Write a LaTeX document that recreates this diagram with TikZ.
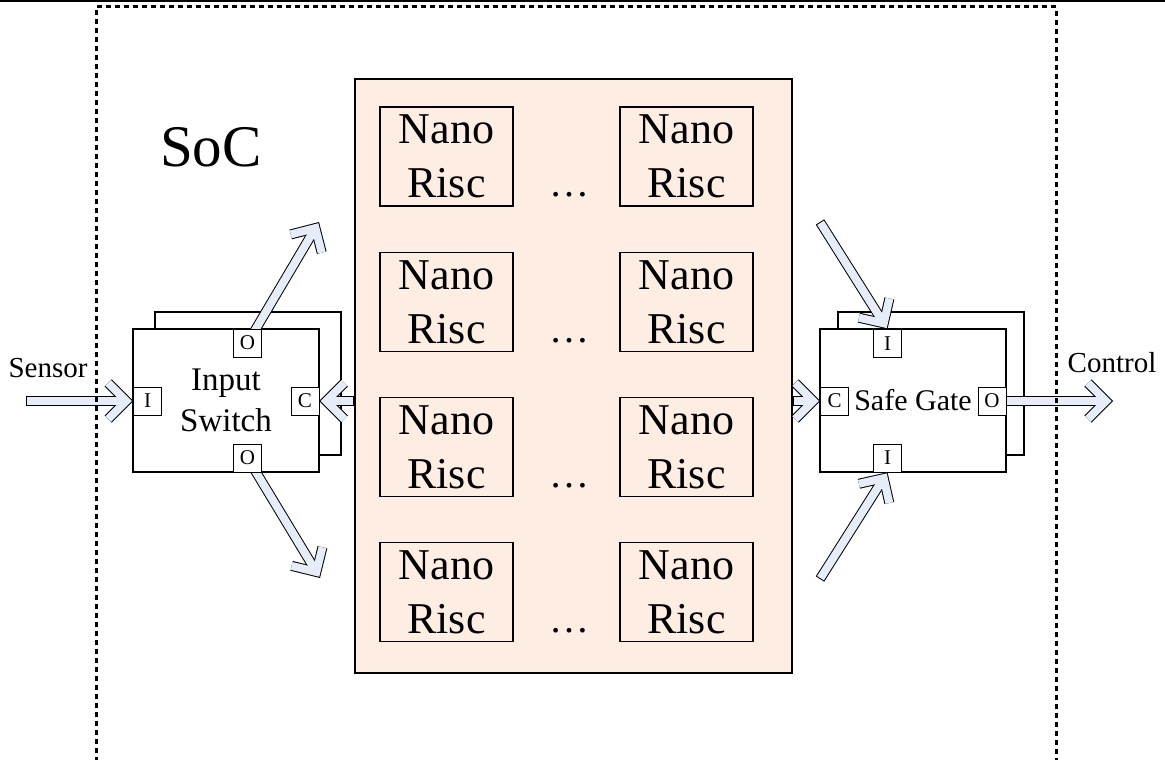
\documentclass[tikz,border=0pt]{standalone}
\usepackage{fontspec}
\setmainfont{Liberation Serif}
\usetikzlibrary{arrows.meta,positioning,calc}
\definecolor{peach}{RGB}{253,237,226}
\definecolor{flowblue}{RGB}{230,237,248}
\pgfdeclarelayer{front}
\pgfsetlayers{main,front}

\begin{document}
\begin{tikzpicture}[x=1pt, y=-1pt, line width=1.2pt,
  core/.style={draw, minimum width=133pt, minimum height=99pt, inner sep=0pt, align=center, font=\fontsize{44}{54}\selectfont},
  unit/.style={draw, fill=white, minimum width=186pt, minimum height=143pt, inner sep=0pt, align=center},
  port/.style={draw, fill=white, minimum size=28pt, inner sep=0pt, font=\fontsize{21}{21}\selectfont},
  flow/.style={draw=flowblue, line width=8pt, shorten >=1.4pt, shorten <=1pt, -{Straight Barb[length=18pt,width=36pt]},
    preaction={draw=black, line width=10pt, shorten >=0pt, shorten <=0pt, -{Straight Barb[length=18pt,width=36pt]}}},
  lbl/.style={font=\fontsize{29}{34}\selectfont},
  border/.style={line width=3pt, dash pattern=on 5pt off 4pt}
]
  \useasboundingbox (0,0) rectangle (1165,760);
  \draw[line width=2.5pt] (0,1) -- (1165,1);

  % NanoRisc array
  \node[draw, fill=peach, minimum width=437pt, minimum height=594pt, inner sep=0pt] (array) at (573.5,376) {};
  \foreach \r/\y in {1/156.5, 2/302, 3/447, 4/592} {
    \node[core] (nl\r) at (446.5,\y) {Nano\\Risc};
    \node[core] (nr\r) at (686.5,\y) {Nano\\Risc};
    \node[anchor=base, inner sep=0pt, font=\fontsize{40}{40}\selectfont] (dd\r) at (569,\y+40) {\dots};
  }
  \node[font=\fontsize{59}{59}\selectfont] (soc) at (211,147) {SoC};

  % switch and gate
  \node[unit] (swb) at (248,383.5) {};
  \node[unit, font=\fontsize{33}{41}\selectfont] (sw) at (226,400.5) {Input\\Switch};
  \node[unit] (sgb) at (931,383.5) {};
  \node[unit, font=\fontsize{30}{36}\selectfont] (sg) at (913,400.5) {Safe Gate};

  \begin{pgfonlayer}{front}
    \node[port] (swO1) at (247.5,343) {O};
    \node[port] (swI) at (147.5,401) {I};
    \node[port] (swC) at (305,401) {C};
    \node[port] (swO2) at (247.5,458) {O};
    \node[port] (sgI1) at (887.5,343.5) {I};
    \node[port] (sgC) at (834.5,401) {C};
    \node[port] (sgO) at (992,401) {O};
    \node[port] (sgI2) at (887.5,458) {I};
  \end{pgfonlayer}

  \coordinate (sens) at (26,401);
  \coordinate (out1) at (319,222);
  \coordinate (out2) at (320,578);
  \coordinate (in1) at (820,222);
  \coordinate (in2) at (820,579);
  \coordinate (ctl) at (1113,401);

  \draw[flow] (sens) -- (swI.west);
  \draw[flow] (swO1.center) -- (out1);
  \draw[flow] (swO2.center) -- (out2);
  \draw[flow] (array.west |- swC) -- (swC.east);
  \draw[flow] (array.east |- sgC) -- (sgC.west);
  \draw[flow] (in1) -- (sgI1.north);
  \draw[flow] (in2) -- (sgI2.south);
  \draw[flow] (sgO.east) -- (ctl);

  \node[lbl] (sensor) at (48,368) {Sensor};
  \node[lbl] (control) at (1112,363) {Control};

  \draw[border] (96,780) -- (96,7) -- (1056,7) -- (1056,780);
\end{tikzpicture}
\end{document}
